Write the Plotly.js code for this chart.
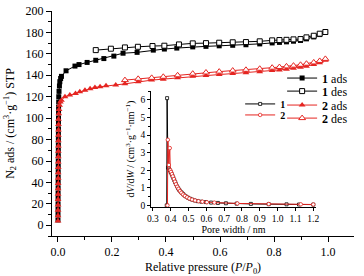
<!DOCTYPE html>
<html>
<head>
<meta charset="utf-8">
<script src="https://cdn.plot.ly/plotly-3.0.1.min.js"></script>
<style>html,body{margin:0;padding:0;background:#fff;}#chart{width:364px;height:276px;}</style>
</head>
<body>
<div id="chart"></div>
<script>
// Main isotherm data (relative pressure P/P0, N2 adsorbed cm3/g STP)
const p1Ads = [0.0001,0.0002,0.0003,0.0004,0.0005,0.0006,0.0007,0.0008,0.0009,0.0010,0.0011,0.0012,0.0013,0.0014,0.0015,0.0016,0.0017,0.0018,0.0019,0.0020,0.0022,0.0024,0.0027,0.0030,0.0040,0.0055,0.0070,0.0100,0.0130,0.030,0.063,0.078,0.108,0.140,0.170,0.207,0.241,0.293,0.353,0.394,0.440,0.499,0.548,0.597,0.647,0.696,0.747,0.793,0.820,0.846,0.872,0.898,0.920,0.947,0.969,0.990];
const v1Ads = [5,10,15,20,25,30,35,40,45,50,55,60,65,70,75,80,85,90,95,100,105,110,115,120,125,130,134,137,139,144.2,148.6,150,152,154,155.6,157.9,160.6,161.4,163.5,164.5,165.4,166.5,167,167.5,168,168.5,169.3,170.2,170.7,171.2,171.8,172.5,174,175.8,178,180];
const p1Des = [0.140,0.196,0.248,0.296,0.350,0.394,0.448,0.499,0.548,0.597,0.647,0.696,0.747,0.793,0.820,0.846,0.872,0.898,0.920,0.947,0.969,0.990];
const v1Des = [163.5,164.8,166,166.6,167.3,167.6,168.8,169.8,170,170.4,170.8,171,171.7,172.6,172.9,173.1,173.5,173.8,175.4,176.9,178.8,180.4];
const p2Ads = [0.0001,0.0002,0.0003,0.0004,0.0005,0.0006,0.0007,0.0008,0.0009,0.0010,0.0011,0.0012,0.0013,0.0014,0.0015,0.0016,0.0017,0.0018,0.0019,0.0020,0.0030,0.0040,0.0060,0.0090,0.0130,0.026,0.044,0.065,0.081,0.100,0.119,0.137,0.156,0.178,0.214,0.248,0.297,0.347,0.390,0.443,0.499,0.548,0.597,0.647,0.696,0.747,0.793,0.820,0.846,0.872,0.898,0.920,0.947,0.969,0.990];
const v2Ads = [4,9,14,19,24,29,34,39,44,49,54,59,64,69,74,79,84,89,94,99,104,108,112,115,116.8,120,121.5,123,124.6,126,127.4,128.7,129.3,130.2,131,132,134,135.5,136.4,137.6,139,139.9,140.7,141.6,142.4,143.3,144.4,145,145.7,146.5,147.4,148.5,150,151.8,154];
const p2Des = [0.248,0.297,0.347,0.390,0.443,0.499,0.548,0.597,0.647,0.696,0.747,0.793,0.820,0.846,0.872,0.898,0.920,0.947,0.969,0.990];
const v2Des = [135.5,136.7,137.6,138.6,140,141.5,142.6,143.4,144.4,145.1,146.1,147.1,147.7,148.3,149,149.8,150.8,152,153.4,155.3];

// Inset: pore size distribution (pore width nm, dV/dW)
const w1 = [0.378,0.380,0.385,0.390,0.395,0.400,0.405,0.410,0.415,0.420,0.425,0.430,0.436,0.442,0.448,0.455,0.462,0.470,0.478,0.487,0.497,0.508,0.520,0.535,0.552,0.572,0.597,0.627,0.665,0.71,0.77,0.85,0.95,1.05,1.12,1.2];
const d1 = [0,6.1,2.15,2.1,2.0,1.9,1.8,1.68,1.56,1.44,1.32,1.2,1.08,0.97,0.88,0.79,0.72,0.64,0.56,0.5,0.44,0.38,0.33,0.28,0.24,0.21,0.19,0.16,0.14,0.12,0.1,0.085,0.07,0.06,0.05,0.045];
const w2 = [0.382,0.384,0.390,0.395,0.398,0.402,0.407,0.412,0.418,0.424,0.430,0.437,0.444,0.452,0.460,0.470,0.480,0.492,0.505,0.520,0.537,0.556,0.578,0.603,0.645,0.774,0.950,1.130,1.200];
const d2 = [0,3.73,2.3,3.26,2.0,1.9,1.78,1.65,1.5,1.35,1.2,1.06,0.94,0.82,0.72,0.62,0.54,0.46,0.39,0.33,0.28,0.24,0.21,0.18,0.16,0.11,0.08,0.06,0.05];

const names = ['<b>1</b> ads','<b>1</b> des','<b>2</b> ads','<b>2</b> des','<b>1</b>','<b>2</b>'];

const RED = '#e52521';
const FONT = 'Liberation Serif, Times New Roman, serif';

const traces = [
  {x:p1Ads, y:v1Ads, name:names[0], legend:'legend', mode:'lines+markers',
   line:{color:'black', width:1}, marker:{symbol:'square', size:5, color:'black'}},
  {x:p1Des, y:v1Des, name:names[1], legend:'legend2', mode:'lines+markers',
   line:{color:'black', width:1}, marker:{symbol:'square', size:5, color:'white', line:{color:'black', width:1}}},
  {x:p2Ads, y:v2Ads, name:names[2], legend:'legend3', mode:'lines+markers',
   line:{color:RED, width:1}, marker:{symbol:'triangle-up', size:6, color:RED}},
  {x:p2Des, y:v2Des, name:names[3], legend:'legend4', mode:'lines+markers',
   line:{color:RED, width:1}, marker:{symbol:'triangle-up', size:6, color:'white', line:{color:RED, width:1}}},
  {x:w1, y:d1, name:names[4], legend:'legend5', xaxis:'x2', yaxis:'y2', mode:'lines+markers',
   line:{color:'black', width:1}, marker:{symbol:'square', size:3, color:'white', line:{color:'black', width:0.8}}},
  {x:w2, y:d2, name:names[5], legend:'legend6', xaxis:'x2', yaxis:'y2', mode:'lines+markers',
   line:{color:RED, width:1}, marker:{symbol:'circle', size:3.5, color:'white', line:{color:RED, width:0.8}}}
];

function leg(x, y, size) {
  return {x:x, y:y, xanchor:'left', yanchor:'middle', bgcolor:'rgba(0,0,0,0)', borderwidth:0,
          font:{family:FONT, size:size, color:'black'}, itemwidth:30, tracegroupgap:0};
}

const axBase = {showgrid:false, zeroline:false, showline:true, linecolor:'black', linewidth:1,
                ticks:'outside', tickcolor:'black', mirror:false, automargin:false};

const layout = {
  width:364, height:276,
  margin:{l:52, r:10, t:11, b:40},
  paper_bgcolor:'white', plot_bgcolor:'white',
  font:{family:FONT, color:'black'},
  showlegend:true,
  xaxis:Object.assign({}, axBase, {
    domain:[0,1], range:[-0.022,1.096], tick0:0, dtick:0.2, tickformat:'.1f', ticklen:5,
    minor:{dtick:0.1, tick0:0, ticks:'outside', ticklen:3, tickcolor:'black'},
    tickfont:{family:FONT, size:12},
    title:{text:'Relative pressure (<i>P</i>/<i>P</i><sub>0</sub>)', font:{family:FONT, size:12}, standoff:4}
  }),
  yaxis:Object.assign({}, axBase, {
    domain:[0,1], range:[-10,200], tick0:0, dtick:20, ticklen:5,
    minor:{dtick:10, tick0:0, ticks:'outside', ticklen:3, tickcolor:'black'},
    tickfont:{family:FONT, size:12},
    title:{text:'N<sub>2</sub> ads / (cm<sup>3</sup>·g<sup>−1</sup>) STP', font:{family:FONT, size:12}, standoff:8}
  }),
  xaxis2:Object.assign({}, axBase, {
    domain:[0.328,0.874], anchor:'y2', range:[0.29,1.215], tick0:0.3, dtick:0.1, tickformat:'.1f', ticklen:3,
    tickfont:{family:FONT, size:9.5},
    title:{text:'Pore width / nm', font:{family:FONT, size:10}, standoff:2}
  }),
  yaxis2:Object.assign({}, axBase, {
    domain:[0.129,0.644], anchor:'x2', range:[-0.09,6.5], tick0:0, dtick:1, ticklen:3,
    minor:{dtick:0.5, tick0:0, ticks:'outside', ticklen:2, tickcolor:'black'},
    tickfont:{family:FONT, size:9.5},
    title:{text:'d<i>V</i>/d<i>W</i> / (cm<sup>3</sup>·g<sup>−1</sup>·nm<sup>−1</sup>)', font:{family:FONT, size:10}, standoff:3}
  }),
  legend:leg(0.762, 0.702, 12),
  legend2:leg(0.762, 0.644, 12),
  legend3:leg(0.762, 0.582, 12),
  legend4:leg(0.762, 0.524, 12),
  legend5:leg(0.623, 0.587, 10),
  legend6:leg(0.623, 0.538, 10)
};

Plotly.newPlot('chart', traces, layout, {staticPlot:true, displayModeBar:false});
</script>
</body>
</html>
